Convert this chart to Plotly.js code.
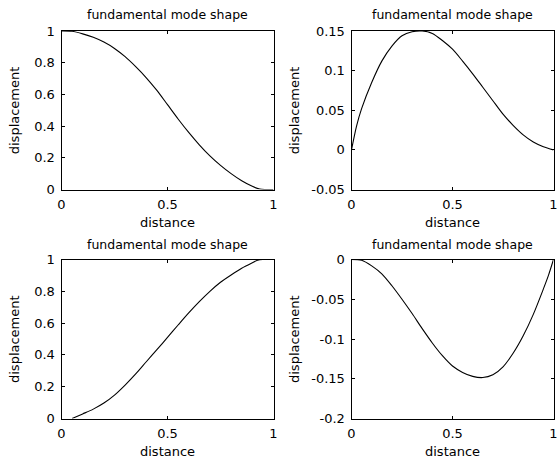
<!DOCTYPE html>
<html>
<head>
<meta charset="utf-8">
<script src="https://cdn.plot.ly/plotly-3.0.1.min.js"></script>
<style>html,body{margin:0;padding:0;background:#fff;}#chart{width:558px;height:461px;}</style>
</head>
<body>
<div id="chart"></div>
<script>
// ---- data ----
var xTL = [0, 0.05, 0.1, 0.15, 0.2, 0.25, 0.3, 0.35, 0.4, 0.45, 0.5, 0.55, 0.6, 0.65, 0.7, 0.75, 0.8, 0.85, 0.9, 0.935, 0.96, 1];
var yTL = [1, 0.998, 0.982, 0.96, 0.93, 0.89, 0.838, 0.775, 0.705, 0.625, 0.535, 0.445, 0.36, 0.282, 0.212, 0.152, 0.1, 0.055, 0.02, 0.003, 0, 0];

var xTR = [0, 0.025, 0.05, 0.1, 0.15, 0.2, 0.25, 0.3, 0.35, 0.4, 0.45, 0.5, 0.55, 0.6, 0.65, 0.7, 0.75, 0.8, 0.85, 0.9, 0.95, 1];
var yTR = [0, 0.03, 0.052, 0.085, 0.112, 0.131, 0.144, 0.149, 0.15, 0.147, 0.138, 0.127, 0.112, 0.096, 0.079, 0.062, 0.045, 0.031, 0.019, 0.01, 0.004, 0];

var xBL = [0.05, 0.1, 0.15, 0.2, 0.25, 0.3, 0.35, 0.4, 0.45, 0.5, 0.55, 0.6, 0.65, 0.7, 0.75, 0.8, 0.85, 0.9, 0.925, 0.95, 1];
var yBL = [0, 0.029, 0.059, 0.097, 0.147, 0.21, 0.28, 0.357, 0.433, 0.51, 0.588, 0.664, 0.735, 0.8, 0.857, 0.903, 0.945, 0.979, 0.995, 1, 1];

var xBR = [0, 0.05, 0.1, 0.15, 0.2, 0.25, 0.3, 0.35, 0.4, 0.45, 0.5, 0.55, 0.6, 0.65, 0.7, 0.75, 0.8, 0.85, 0.9, 0.95, 0.975, 1];
var yBR = [0, -0.001, -0.008, -0.018, -0.033, -0.05, -0.068, -0.087, -0.105, -0.121, -0.134, -0.142, -0.147, -0.1485, -0.145, -0.135, -0.118, -0.096, -0.069, -0.037, -0.02, 0];

var xTickVals = [0, 0.5, 1];
var xTickText = ['0', '0.5', '1'];
var yTickValsUnit = [0, 0.2, 0.4, 0.6, 0.8, 1];
var yTickTextUnit = ['0', '0.2', '0.4', '0.6', '0.8', '1'];
var yTickValsTR = [-0.05, 0, 0.05, 0.1, 0.15];
var yTickTextTR = ['-0.05', '0', '0.05', '0.1', '0.15'];
var yTickValsBR = [-0.2, -0.15, -0.1, -0.05, 0];
var yTickTextBR = ['-0.2', '-0.15', '-0.1', '-0.05', '0'];

var subplotTitle = 'fundamental mode shape';
var xLabel = 'distance';
var yLabel = 'displacement';

// ---- layout helpers ----
var W = 558, H = 461;
function px(x) { return x / W; }
function py(y) { return 1 - y / H; }
var FONT = 'DejaVu Sans, Arial, sans-serif';

function lineTrace(x, y, xa, ya) {
  return {x: x, y: y, xaxis: xa, yaxis: ya, type: 'scatter', mode: 'lines',
          line: {color: '#000', width: 1.1, shape: 'spline', smoothing: 0.8},
          hoverinfo: 'skip', showlegend: false};
}

var data = [
  lineTrace(xTL, yTL, 'x', 'y'),
  lineTrace(xTR, yTR, 'x2', 'y2'),
  lineTrace(xBL, yBL, 'x3', 'y3'),
  lineTrace(xBR, yBR, 'x4', 'y4')
];

function axisCommon(extra) {
  var a = {
    showline: true, linecolor: '#000', linewidth: 1, mirror: 'allticks',
    ticks: 'inside', ticklen: 3, tickwidth: 1, tickcolor: '#000',
    showgrid: false, zeroline: false, automargin: false, fixedrange: true,
    tickfont: {family: FONT, size: 13, color: '#000'},
    tickmode: 'array'
  };
  for (var k in extra) a[k] = extra[k];
  return a;
}

var colL = [px(61.5), px(273.5)];
var colR = [px(351.5), px(553.5)];
var rowT = [py(189.5), py(31)];
var rowB = [py(418.5), py(259.5)];

var layout = {
  width: W, height: H,
  margin: {l: 0, r: 0, t: 0, b: 0, pad: 0},
  paper_bgcolor: '#fff', plot_bgcolor: '#fff',
  showlegend: false,
  xaxis:  axisCommon({domain: colL, anchor: 'y',  range: [0, 1], tickvals: xTickVals, ticktext: xTickText, ticklabelstandoff: 3}),
  yaxis:  axisCommon({domain: rowT, anchor: 'x',  range: [0, 1], tickvals: yTickValsUnit, ticktext: yTickTextUnit, ticklabelstandoff: 3}),
  xaxis2: axisCommon({domain: colR, anchor: 'y2', range: [0, 1], tickvals: xTickVals, ticktext: xTickText, ticklabelstandoff: 3}),
  yaxis2: axisCommon({domain: rowT, anchor: 'x2', range: [-0.05, 0.15], tickvals: yTickValsTR, ticktext: yTickTextTR, ticklabelstandoff: 3}),
  xaxis3: axisCommon({domain: colL, anchor: 'y3', range: [0, 1], tickvals: xTickVals, ticktext: xTickText, ticklabelstandoff: 3}),
  yaxis3: axisCommon({domain: rowB, anchor: 'x3', range: [0, 1], tickvals: yTickValsUnit, ticktext: yTickTextUnit, ticklabelstandoff: 3}),
  xaxis4: axisCommon({domain: colR, anchor: 'y4', range: [0, 1], tickvals: xTickVals, ticktext: xTickText, ticklabelstandoff: 3}),
  yaxis4: axisCommon({domain: rowB, anchor: 'x4', range: [-0.2, 0], tickvals: yTickValsBR, ticktext: yTickTextBR, ticklabelstandoff: 3}),
  annotations: []
};

function ann(text, x, y, size, angle) {
  return {text: text, xref: 'paper', yref: 'paper', x: px(x), y: py(y),
          xanchor: 'center', yanchor: 'middle', showarrow: false,
          textangle: angle || 0, font: {family: FONT, size: size, color: '#000'}};
}
var cxL = (61.5 + 273.5) / 2, cxR = (351.5 + 553.5) / 2;
var cyT = (31 + 189.5) / 2, cyB = (259.5 + 418.5) / 2;
layout.annotations.push(ann(subplotTitle, cxL, 15, 12.5));
layout.annotations.push(ann(subplotTitle, cxR, 15, 12.5));
layout.annotations.push(ann(subplotTitle, cxL, 244, 12.5));
layout.annotations.push(ann(subplotTitle, cxR, 244, 12.5));
layout.annotations.push(ann(xLabel, cxL, 222, 13));
layout.annotations.push(ann(xLabel, cxR, 222, 13));
layout.annotations.push(ann(xLabel, cxL, 451, 13));
layout.annotations.push(ann(xLabel, cxR, 451, 13));
layout.annotations.push(ann(yLabel, 14, cyT, 13, -90));
layout.annotations.push(ann(yLabel, 294, cyT, 13, -90));
layout.annotations.push(ann(yLabel, 14, cyB, 13, -90));
layout.annotations.push(ann(yLabel, 294, cyB, 13, -90));

Plotly.newPlot('chart', data, layout, {displayModeBar: false, staticPlot: true});
</script>
</body>
</html>
